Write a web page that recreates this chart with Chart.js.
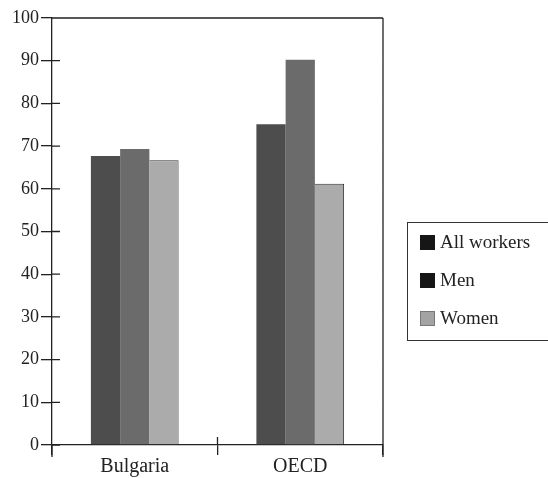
<!DOCTYPE html>
<html>
<head>
<meta charset="utf-8">
<script src="https://cdn.jsdelivr.net/npm/chart.js@4.4.1/dist/chart.umd.min.js"></script>
<style>
  html, body { margin: 0; padding: 0; background: #fff; }
  #wrap { width: 548px; height: 478px; }
</style>
</head>
<body>
<div id="wrap"><canvas id="myChart" width="548" height="478"></canvas></div>
<script>
// data
var categories = ["Bulgaria", "OECD"];
var seriesNames = ["All workers", "Men", "Women"];
var allWorkers = [67.7, 75.1];
var men = [69.3, 90.2];
var women = [66.7, 61.2];
var yTicks = [0, 10, 20, 30, 40, 50, 60, 70, 80, 90, 100];

var barColors = ['#4d4d4d', '#6b6b6b', '#ababab'];
var swatchColors = ['#161616', '#161616', '#a3a3a3'];
var ink = '#222';
var serif = '"Liberation Serif", "DejaVu Serif", serif';

// frame, ticks crossing the axes, and the boxed legend at the right
var framePlugin = {
  id: 'frame',
  afterDraw: function(chart) {
    var c = chart.ctx, a = chart.chartArea;
    var y = chart.scales.y, x = chart.scales.x;
    c.save();
    c.strokeStyle = ink;
    c.lineWidth = 1.3;
    c.beginPath();
    c.moveTo(a.left, a.top); c.lineTo(a.right, a.top);
    c.moveTo(a.right, a.top); c.lineTo(a.right, a.bottom + 12);
    c.moveTo(a.left, a.bottom); c.lineTo(a.left, a.bottom + 12);
    // inner halves of y ticks
    yTicks.forEach(function(v) {
      if (v === 100) return;
      var py = y.getPixelForValue(v);
      c.moveTo(a.left, py); c.lineTo(a.left + 8, py);
    });
    // middle tick on x axis
    var mid = (x.getPixelForValue(0) + x.getPixelForValue(1)) / 2;
    c.moveTo(mid, a.bottom - 8); c.lineTo(mid, a.bottom);
    c.stroke();

    // legend box
    c.lineWidth = 1;
    c.strokeStyle = '#333';
    c.strokeRect(407.5, 222.5, 160, 118);
    c.font = '19px ' + serif;
    c.textBaseline = 'middle';
    c.textAlign = 'left';
    chart.data.datasets.forEach(function(ds, i) {
      var ly = 242 + i * 38;
      c.fillStyle = swatchColors[i];
      c.fillRect(420, ly - 7, 15, 15);
      if (i === 2) {
        c.strokeStyle = '#777';
        c.strokeRect(420.5, ly - 6.5, 14, 14);
      }
      c.fillStyle = ink;
      c.fillText(ds.label, 440, ly + 1);
    });
    c.restore();
  }
};

var ctx = document.getElementById("myChart").getContext('2d');
var myChart = new Chart(ctx, {
  type: 'bar',
  data: {
    labels: categories,
    datasets: [
      { label: seriesNames[0], data: allWorkers, backgroundColor: barColors[0] },
      { label: seriesNames[1], data: men, backgroundColor: barColors[1] },
      { label: seriesNames[2], data: women, backgroundColor: barColors[2],
        borderColor: '#333', borderWidth: { top: 1, right: 1, left: 0, bottom: 0 } }
    ]
  },
  options: {
    responsive: false,
    animation: false,
    layout: { padding: { top: 18, right: 165, left: 0, bottom: 0 } },
    datasets: { bar: { categoryPercentage: 0.53, barPercentage: 1.0 } },
    plugins: {
      legend: { display: false },
      tooltip: { enabled: false }
    },
    scales: {
      x: {
        offset: true,
        afterFit: function(s) { s.height = 33; },
        grid: { offset: true, drawOnChartArea: false, tickLength: 10, color: ink, lineWidth: 1.3 },
        border: { color: ink, width: 1.3 },
        ticks: { color: ink, padding: 0, font: { family: serif, size: 20 } }
      },
      y: {
        min: 0,
        max: 100,
        afterFit: function(s) { s.width = 52; },
        afterBuildTicks: function(s) { s.ticks = yTicks.map(function(v) { return { value: v }; }); },
        grid: { drawOnChartArea: false, tickLength: 11, color: ink, lineWidth: 1.3 },
        border: { color: ink, width: 1.3 },
        ticks: { color: ink, padding: 2, font: { family: serif, size: 18 } }
      }
    }
  },
  plugins: [framePlugin]
});
</script>
</body>
</html>
